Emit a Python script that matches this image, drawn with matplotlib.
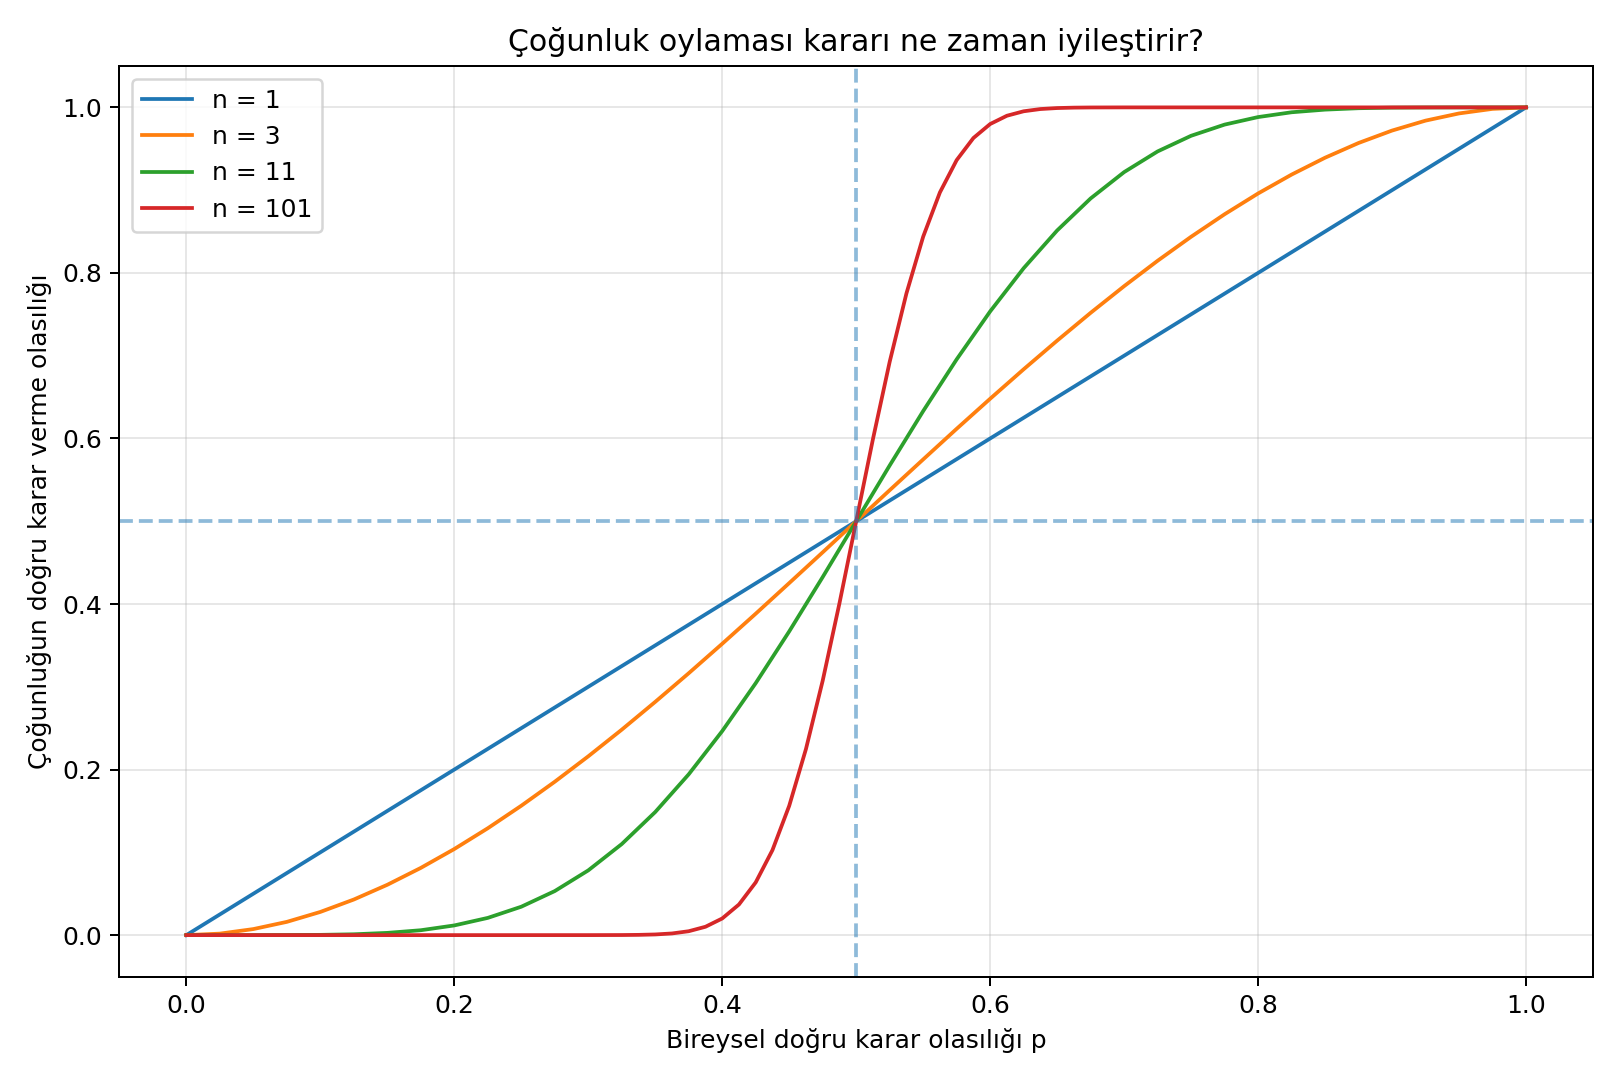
import matplotlib.pyplot as plt

# values
p_grid = [0.0, 0.025, 0.05, 0.075, 0.1, 0.125, 0.15, 0.175, 0.2, 0.225, 0.25,
          0.275, 0.3, 0.325, 0.35, 0.375, 0.4, 0.425, 0.45, 0.475, 0.5,
          0.525, 0.55, 0.575, 0.6, 0.625, 0.65, 0.675, 0.7, 0.725, 0.75,
          0.775, 0.8, 0.825, 0.85, 0.875, 0.9, 0.925, 0.95, 0.975, 1.0]

n1_p = [0.0, 1.0]
n1_y = [0.0, 1.0]

n3_y = [0.0, 0.0018, 0.0073, 0.0160, 0.0280, 0.0430, 0.0608, 0.0812, 0.1040, 0.1291, 0.1563,
        0.1853, 0.2160, 0.2482, 0.2818, 0.3164, 0.3520, 0.3883, 0.4253, 0.4625, 0.5,
        0.5375, 0.5747, 0.6117, 0.6480, 0.6836, 0.7182, 0.7518, 0.7840, 0.8147, 0.8437,
        0.8709, 0.8960, 0.9188, 0.9392, 0.9570, 0.9720, 0.9840, 0.9927, 0.9982, 1.0]

n11_y = [0.0, 0.0, 0.0, 0.0001, 0.0003, 0.0010, 0.0027, 0.0059, 0.0117, 0.0208, 0.0343,
         0.0532, 0.0782, 0.1100, 0.1487, 0.1943, 0.2465, 0.3044, 0.3669, 0.4326, 0.5,
         0.5674, 0.6331, 0.6956, 0.7535, 0.8057, 0.8513, 0.8900, 0.9218, 0.9468, 0.9657,
         0.9792, 0.9883, 0.9941, 0.9973, 0.9990, 0.9997, 0.9999, 1.0, 1.0, 1.0]

n101_p = [0.0, 0.1, 0.2, 0.25, 0.3, 0.325, 0.3375, 0.35, 0.3625, 0.375, 0.3875,
          0.4, 0.4125, 0.425, 0.4375, 0.45, 0.4625, 0.475, 0.4875, 0.5,
          0.5125, 0.525, 0.5375, 0.55, 0.5625, 0.575, 0.5875, 0.6, 0.6125, 0.625,
          0.6375, 0.65, 0.6625, 0.675, 0.7, 0.75, 0.8, 0.9, 1.0]
n101_y = [0.0, 0.0, 0.0, 0.0, 0.00001, 0.0001, 0.0003, 0.0008, 0.0020, 0.0047, 0.0101,
          0.0201, 0.0370, 0.0637, 0.1027, 0.1562, 0.2248, 0.3074, 0.4008, 0.5,
          0.5992, 0.6926, 0.7752, 0.8438, 0.8973, 0.9363, 0.9630, 0.9799, 0.9899, 0.9953,
          0.9980, 0.9992, 0.9997, 0.9999, 1.0, 1.0, 1.0, 1.0, 1.0]

plt.figure(figsize=(9, 6), dpi=180)
plt.plot(n1_p, n1_y, label='n = 1')
plt.plot(p_grid, n3_y, label='n = 3')
plt.plot(p_grid, n11_y, label='n = 11')
plt.plot(n101_p, n101_y, label='n = 101')
plt.axhline(0.5, linestyle='--', alpha=0.5)
plt.axvline(0.5, linestyle='--', alpha=0.5)
plt.xlabel('Bireysel doğru karar olasılığı p')
plt.ylabel('Çoğunluğun doğru karar verme olasılığı')
plt.title('Çoğunluk oylaması kararı ne zaman iyileştirir?')
plt.legend(loc='upper left')
plt.grid(True, alpha=0.3)
plt.tight_layout()
plt.savefig('out.png')
